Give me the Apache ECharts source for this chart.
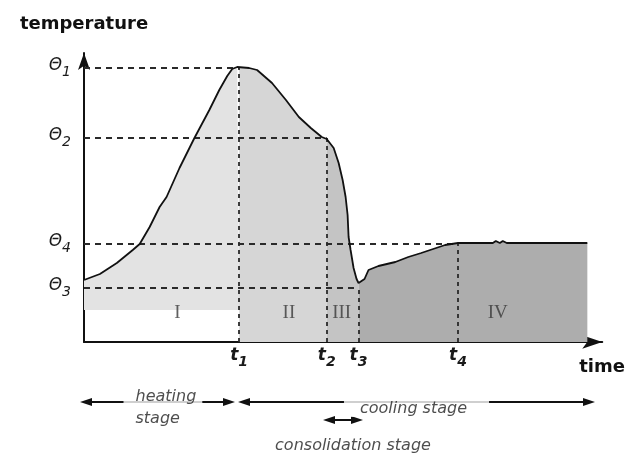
<!DOCTYPE html>
<html>
<head>
<meta charset="utf-8">
<script src="https://cdn.jsdelivr.net/npm/echarts@6/dist/echarts.min.js"></script>
<style>
  html, body { margin: 0; padding: 0; background: #fff; }
  #chart { width: 628px; height: 456px; }
</style>
</head>
<body>
<div id="chart"></div>
<script>
// 温度曲线 (时间 / 温度, 任意单位)
const curveX = [0, 16, 33, 49, 56, 66, 76, 83, 96, 111, 126, 136, 144, 149, 154, 156, 166, 174, 189, 203,
  216, 228, 239, 244, 246, 251, 256, 260, 263, 265, 266, 268, 271, 274, 276, 278, 282, 286, 296, 313,
  326, 339, 351, 363, 376, 411, 414, 418, 421, 425, 506];
const curveY = [62, 68, 79, 92, 98, 115, 135, 145, 174, 204, 232, 252, 266, 273, 275, 275, 274, 272, 259, 242,
  225, 214, 205, 203, 201, 194, 179, 162, 145, 127, 105, 92, 74, 63, 59, 57, 63, 72, 76, 80,
  85, 89, 93, 97, 99, 99, 101, 99, 101, 99, 99];
// Θ1..Θ4 温度水平
const thetaValues = [274, 204, 54, 98];
// t1..t4 时间点
const timeValues = [156, 244, 276, 376];
// 区域 I..IV
const regionNames = ["I", "II", "III", "IV"];
const regionLabelX = [94, 206, 259, 416];
const regionLabelY = 29;
const bandIBase = 32;
// 阶段箭头
const stageNames = ["heating\nstage", "cooling stage", "consolidation stage"];
const stageStart = [-4, 154, 239];
const stageEnd = [151, 511, 279];
const stageRow = [1, 1, 2];
const stageLabelRow = [1, 1, 3];

const points = curveX.map((x, i) => [x, curveY[i]]);
function segment(a, b) {
  return points.filter((p) => p[0] >= a && p[0] <= b);
}

const sub = (base, n) => `{b|${base}}{s|${n}}`;
const labelRich = (weight) => ({
  b: { fontSize: 17, fontStyle: "italic", fontWeight: weight, fontFamily: "DejaVu Sans", color: "#1a1a1a", lineHeight: 22, verticalAlign: "top" },
  s: { fontSize: 14, fontStyle: "italic", fontWeight: weight, fontFamily: "DejaVu Sans", color: "#1a1a1a", lineHeight: 14, verticalAlign: "bottom" },
});

function renderChart() {
  const myChart = echarts.init(document.querySelector("#chart"));

  const bounds = [0, timeValues[0], timeValues[1], timeValues[2], curveX[curveX.length - 1]];
  const regionColors = ["#e3e3e3", "#d6d6d6", "#c4c4c4", "#adadad"];
  const regionSeries = regionNames.map((name, i) => ({
    type: "line",
    data: segment(bounds[i], bounds[i + 1]),
    symbol: "none",
    silent: true,
    z: 1,
    lineStyle: { width: 0 },
    areaStyle: { color: regionColors[i], opacity: 1, origin: i === 0 ? bandIBase : 0 },
  }));

  // 虚线辅助线
  const guides = [];
  thetaValues.forEach((v, k) => {
    guides.push([{ coord: [0, v] }, { coord: [timeValues[k], v] }]);
    guides.push([
      { coord: [timeValues[k], 0], lineStyle: { type: [4, 4] } },
      { coord: [timeValues[k], v] },
    ]);
  });

  // 阶段箭头
  const headHalf = 6;
  const arrows = stageNames.map((n, i) => [
    { coord: [stageStart[i] + headHalf, stageRow[i]] },
    { coord: [stageEnd[i] - headHalf, stageRow[i]] },
  ]);
  const stageLabelStyle = [
    { align: "left", offset: [-34, 6], padding: [0, 6, 0, 12], backgroundColor: "#fff", lineHeight: 22 },
    { align: "center", offset: [0, 7], padding: [0, 22, 0, 16], backgroundColor: "#fff" },
    { align: "center", offset: [10, 8] },
  ];

  const option = {
    animation: false,
    grid: [
      { left: 84, right: 23, top: 53, bottom: 114 },
      { left: 74, right: 23, top: 384, height: 80 },
    ],
    xAxis: [
      {
        type: "value",
        min: 0,
        max: 521,
        name: "time",
        nameLocation: "end",
        nameGap: -23,
        nameTextStyle: {
          fontFamily: "DejaVu Sans", fontWeight: "bold", fontSize: 18, color: "#111",
          align: "left", verticalAlign: "top", padding: [16, 0, 0, 0],
        },
        axisLine: { lineStyle: { color: "#111", width: 2 }, symbol: ["none", "arrow"], symbolSize: [10, 20] },
        axisTick: { show: false },
        splitLine: { show: false },
        axisLabel: {
          customValues: timeValues,
          margin: 5,
          formatter: (v) => sub("t", timeValues.indexOf(v) + 1),
          rich: labelRich("bold"),
        },
      },
      { type: "value", gridIndex: 1, min: -10, max: 521, show: false },
    ],
    yAxis: [
      {
        type: "value",
        min: 0,
        max: 289,
        name: "temperature",
        nameLocation: "end",
        nameGap: 20,
        nameTextStyle: { fontFamily: "DejaVu Sans", fontWeight: "bold", fontSize: 18, color: "#111" },
        axisLine: { show: true, lineStyle: { color: "#111", width: 2 }, symbol: ["none", "arrow"], symbolSize: [9, 17] },
        axisTick: { show: false },
        splitLine: { show: false },
        axisLabel: {
          customValues: thetaValues,
          margin: 13,
          formatter: (v) => sub("Θ", thetaValues.indexOf(v) + 1),
          rich: labelRich("normal"),
        },
      },
      { type: "value", gridIndex: 1, min: 0, max: 4, inverse: true, show: false },
    ],
    series: [
      ...regionSeries,
      {
        type: "line",
        data: [],
        silent: true,
        markLine: {
          silent: true,
          z: 3,
          symbol: "none",
          label: { show: false },
          lineStyle: { color: "#2a2a2a", width: 1.8, type: [6, 5] },
          data: guides,
        },
      },
      {
        type: "line",
        data: points,
        symbol: "none",
        z: 6,
        silent: true,
        lineStyle: { color: "#111", width: 1.8 },
      },
      {
        type: "scatter",
        z: 4,
        silent: true,
        symbolSize: 0,
        data: regionNames.map((n, i) => ({ name: n, value: [regionLabelX[i], regionLabelY] })),
        label: {
          show: true,
          position: "inside",
          formatter: (p) => p.name,
          fontFamily: "Liberation Serif",
          fontSize: 19,
          color: "#383838",
        },
      },
      {
        type: "line",
        xAxisIndex: 1,
        yAxisIndex: 1,
        data: [],
        silent: true,
        markLine: {
          silent: true,
          z: 3,
          symbol: ["triangle", "triangle"],
          symbolSize: [8, 12],
          label: { show: false },
          lineStyle: { color: "#111", width: 2, type: "solid" },
          data: arrows,
        },
      },
      {
        type: "scatter",
        xAxisIndex: 1,
        yAxisIndex: 1,
        z: 10,
        silent: true,
        symbolSize: 0,
        data: stageNames.map((n, i) => ({
          name: n,
          value: [(stageStart[i] + stageEnd[i]) / 2, stageLabelRow[i]],
          label: stageLabelStyle[i],
        })),
        label: {
          show: true,
          position: "inside",
          formatter: (p) => p.name,
          fontFamily: "DejaVu Sans",
          fontStyle: "italic",
          fontSize: 16,
          color: "#222",
        },
      },
    ],
  };
  myChart.setOption(option);
}
renderChart();
</script>
</body>
</html>
